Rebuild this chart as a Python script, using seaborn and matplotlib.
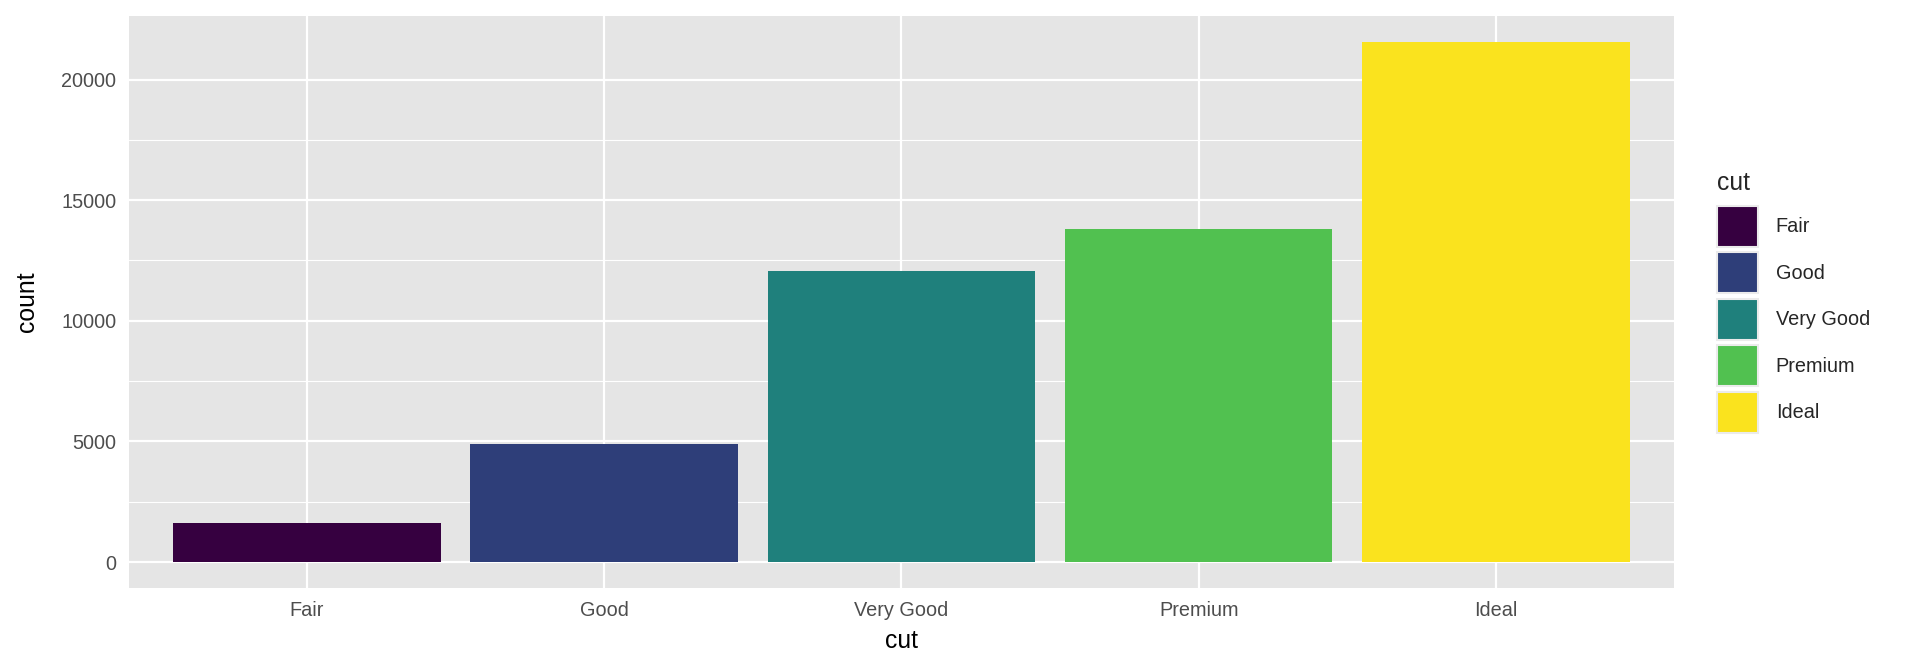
import pandas as pd
import matplotlib.pyplot as plt
import seaborn as sns

# Data: diamonds counts per cut
cuts = ['Fair', 'Good', 'Very Good', 'Premium', 'Ideal']
counts = [1610, 4906, 12082, 13791, 21551]
colors = ['#360040', '#2E3E79', '#1F807C', '#51C150', '#FAE31E']

df = pd.DataFrame({'cut': pd.Categorical(cuts, categories=cuts), 'count': counts})

sns.set_theme(style="darkgrid")
plt.rcParams['font.family'] = ['Liberation Sans', 'DejaVu Sans']

fig = plt.figure(figsize=(19.2, 6.72), dpi=100)
ax = fig.add_axes([0.067, 0.125, 0.805, 0.851])
ax.set_facecolor('#E5E5E5')

sns.barplot(data=df, x='cut', y='count', hue='cut', palette=colors,
            width=0.9, saturation=1, linewidth=0, edgecolor='none', ax=ax, legend=True)

ax.set_xlim(-0.6, 4.6)
ax.set_ylim(-1077.55, 22628.55)
ax.set_yticks([0, 5000, 10000, 15000, 20000])
ax.set_yticks([2500, 7500, 12500, 17500], minor=True)

ax.grid(True, which='major', color='white', linewidth=1.6)
ax.grid(True, which='minor', axis='y', color='white', linewidth=0.8)
ax.set_axisbelow(True)
for s in ax.spines.values():
    s.set_visible(False)

ax.tick_params(axis='both', which='major', length=6, width=1.4, color='#333333',
               labelsize=14.3, labelcolor='#4D4D4D', pad=3)
ax.tick_params(axis='both', which='minor', length=0)
ax.set_xlabel('cut', fontsize=17.8, color='black', labelpad=7)
ax.set_ylabel('count', fontsize=17.8, color='black', labelpad=16)

sns.move_legend(ax, loc='upper left', bbox_to_anchor=(0.889, 0.761),
                bbox_transform=fig.transFigure, frameon=False,
                title='cut', title_fontsize=17.8, fontsize=14.3,
                handlelength=2.07, handleheight=2.8, labelspacing=0.28,
                handletextpad=0.9, borderpad=0, alignment='left')
leg = ax.get_legend()
leg._legend_box.sep = 8
for h in leg.legend_handles:
    h.set_edgecolor('#EBEBEB')
    h.set_linewidth(1.5)

fig.savefig('out.png', dpi=100)
